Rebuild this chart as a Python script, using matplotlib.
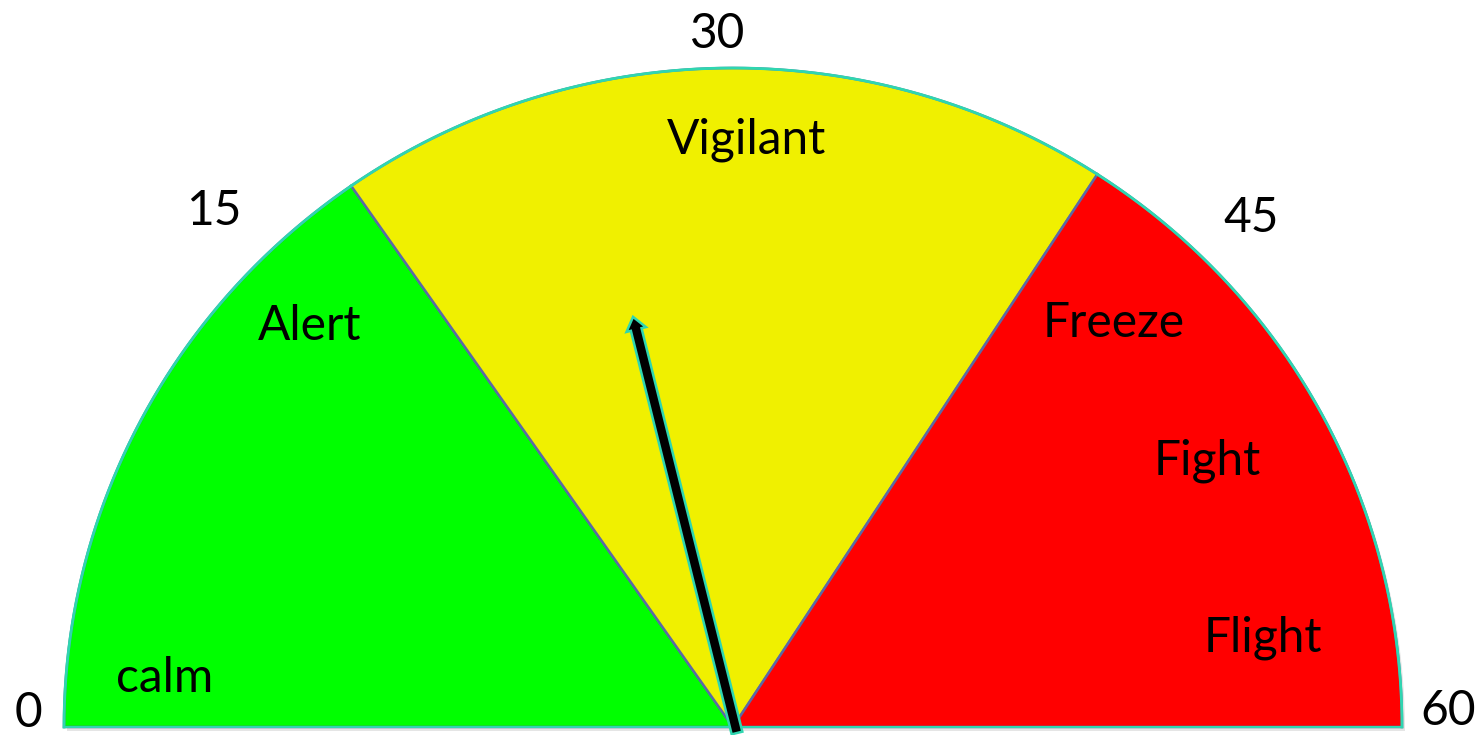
import numpy as np
import matplotlib.pyplot as plt
from matplotlib.patches import Polygon, FancyArrow

# gauge scale 0..60
zone_names = ['calm', 'vigilant', 'red']
zone_edges = [0, 18.4, 41.0, 60]
zone_colors = ['#00ff00', '#f0f000', '#ff0000']
tick_values = [0, 15, 30, 45, 60]
tick_labels = ['0', '15', '30', '45', '60']
state_labels = ['calm', 'Alert', 'Vigilant', 'Freeze', 'Fight', 'Flight']
needle_value = 25.5

# layout (pixel coords, y down)
W, H = 1479, 735
cx, cy = 733, 727
rx, ry = 669, 659
tick_pos = [(28, 727), (214, 225), (718, 48), (1251, 232), (1448, 725)]
state_pos = [(165, 692), (310, 340), (746, 153), (1114, 337), (1207, 474), (1263, 651)]

plt.rcParams['font.family'] = ['Lato', 'DejaVu Sans']

fig = plt.figure(figsize=(W / 100, H / 100), dpi=100)
ax = fig.add_axes([0, 0, 1, 1])
ax.set_xlim(0, W)
ax.set_ylim(H, 0)
ax.axis('off')


def val2ang(v):
    return np.radians(180 - v * 3)


def pt(ang, f=1.0):
    return cx + f * rx * np.cos(ang), cy - f * ry * np.sin(ang)


# faint shadow under the gauge
for i in range(len(zone_colors)):
    a = np.linspace(val2ang(zone_edges[i]), val2ang(zone_edges[i + 1]), 200)
    xs, ys = pt(a)
    sh = Polygon(np.column_stack([np.r_[cx, xs] + 3, np.r_[cy, ys] + 4]),
                 closed=True, facecolor='#999999', edgecolor='none', alpha=0.25, zorder=1)
    ax.add_patch(sh)

for i in range(len(zone_colors)):
    a = np.linspace(val2ang(zone_edges[i]), val2ang(zone_edges[i + 1]), 200)
    xs, ys = pt(a)
    poly = Polygon(np.column_stack([np.r_[cx, xs], np.r_[cy, ys]]), closed=True,
                   facecolor=zone_colors[i], edgecolor='#5b6aa5', linewidth=1.8, zorder=2)
    ax.add_patch(poly)
    # outer rim
    ax.plot(xs, ys, color='#2fd6b0', linewidth=2, zorder=3)

# bottom rim
ax.plot([cx - rx, cx + rx], [cy, cy], color='#2fd6b0', linewidth=1.5, zorder=3)

for lbl, (x, y) in zip(tick_labels, tick_pos):
    ax.text(x, y, lbl, fontsize=34.5, ha='center', va='baseline', color='black', zorder=5)

for lbl, (x, y) in zip(state_labels, state_pos):
    ax.text(x, y, lbl, fontsize=34.5, ha='center', va='baseline', color='black', zorder=5)

# needle
na = val2ang(needle_value)
length = 0.64
bx, by = cx + 4, cy + 6
tx, ty = pt(na, length)
ax.add_patch(FancyArrow(bx, by, tx - bx, ty - by, width=11, head_width=20, head_length=13,
                        length_includes_head=True, facecolor='black', edgecolor='#2fd6b0',
                        linewidth=1.8, zorder=6))

fig.savefig('out.png', dpi=100)
